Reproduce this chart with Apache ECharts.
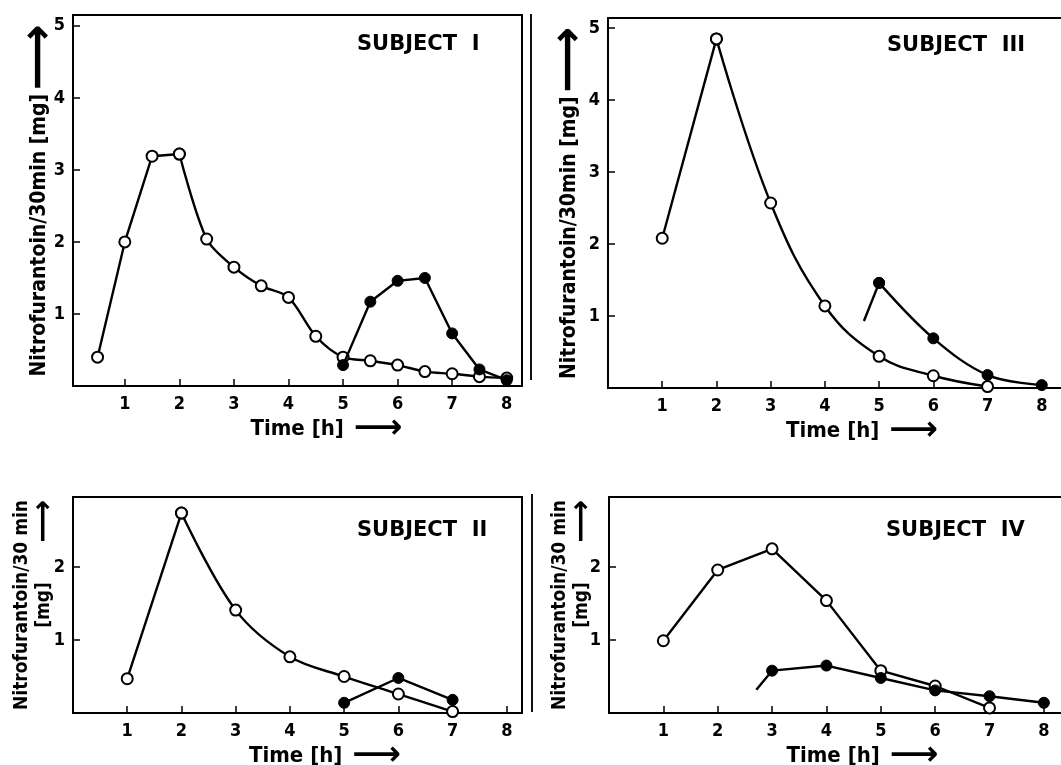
<!DOCTYPE html>
<html>
<head>
<meta charset="utf-8">
<title>Nitrofurantoin excretion</title>
<script src="https://cdn.jsdelivr.net/npm/echarts@6/dist/echarts.min.js"></script>
<style>
  html, body { margin: 0; padding: 0; background: #fff; }
  #chart { width: 1061px; height: 765px; }
</style>
</head>
<body>
<div id="chart"></div>
<script>
// tick labels
const ticksX = [1, 2, 3, 4, 5, 6, 7, 8]
const ticksYBig = [1, 2, 3, 4, 5]
const ticksYSmall = [1, 2]

// [time h, mg / 30 min]  open = first series, filled = second series
const s1Open = [[0.5, 0.40], [1, 2.0], [1.5, 3.19], [2, 3.22], [2.5, 2.04], [3, 1.65], [3.5, 1.39],
  [4, 1.23], [4.5, 0.69], [5, 0.40], [5.5, 0.35], [6, 0.29], [6.5, 0.20], [7, 0.17], [7.5, 0.13], [8, 0.11]]
const s1Filled = [[5, 0.29], [5.5, 1.17], [6, 1.46], [6.5, 1.50], [7, 0.73], [7.5, 0.23], [8, 0.08]]

const s2Open = [[1, 0.47], [2, 2.74], [3, 1.41], [4, 0.77], [5, 0.50], [6, 0.26], [7, 0.02]]
const s2Filled = [[5, 0.14], [6, 0.48], [7, 0.18]]

const s3Open = [[1, 2.08], [2, 4.85], [3, 2.57], [4, 1.14], [5, 0.44], [6, 0.17], [7, 0.02]]
const s3Lead = [4.72, 0.93]   // line starts here, no marker
const s3Filled = [[5, 1.46], [6, 0.69], [7, 0.18], [8, 0.04]]

const s4Open = [[1, 0.99], [2, 1.96], [3, 2.25], [4, 1.54], [5, 0.58], [6, 0.37], [7, 0.07]]
const s4Lead = [2.71, 0.32]
const s4Filled = [[3, 0.58], [4, 0.65], [5, 0.48], [6, 0.31], [7, 0.23], [8, 0.14]]

const FONT = 'DejaVu Sans Condensed'

let chart = echarts.init(document.getElementById('chart'), null, { renderer: 'canvas' })

function grid(left, top, width, height) {
    return {
        left: left, top: top, width: width, height: height,
        show: true, borderColor: '#000', borderWidth: 2,
        outerBoundsMode: 'none'
    }
}

function xAxis(idx, min, max, shift, gap) {
    return {
        type: 'value', gridIndex: idx, min: min, max: max,
        axisLine: { show: true, lineStyle: { color: '#000', width: 2 } },
        axisTick: { show: true, inside: true, length: 7, customValues: ticksX, lineStyle: { color: '#000', width: 1.5 } },
        axisLabel: { customValues: ticksX, color: '#000', fontFamily: FONT, fontWeight: 'bold', fontSize: 18, margin: 9 },
        splitLine: { show: false },
        name: '{p|}{t|Time [h]}{a|⟶}',
        nameLocation: 'middle',
        nameGap: gap,
        nameMoveOverlap: false,
        nameTextStyle: {
            rich: {
                p: { width: shift },
                t: { fontFamily: FONT, fontWeight: 'bold', fontSize: 22, color: '#000', padding: [0, 10, 0, 0] },
                a: { fontFamily: 'DejaVu Sans', fontWeight: 'bold', fontSize: 34, color: '#000' }
            }
        }
    }
}

function yAxis(idx, max, ticks, name, gap, size) {
    return {
        type: 'value', gridIndex: idx, min: 0, max: max,
        axisLine: { show: true, lineStyle: { color: '#000', width: 2 } },
        axisTick: { show: true, inside: true, length: 7, customValues: ticks, lineStyle: { color: '#000', width: 1.5 } },
        axisLabel: { customValues: ticks, color: '#000', fontFamily: FONT, fontWeight: 'bold', fontSize: 18, margin: 8 },
        splitLine: { show: false },
        name: name,
        nameLocation: 'middle',
        nameGap: gap,
        nameMoveOverlap: false,
        nameTextStyle: {
            rich: {
                t: { fontFamily: FONT, fontWeight: 'bold', fontSize: size, color: '#000', lineHeight: 22 },
                l: { width: 80 },
                m: { fontFamily: FONT, fontWeight: 'bold', fontSize: size, color: '#000', width: 40, align: 'center', lineHeight: 22 },
                r: { fontFamily: 'DejaVu Sans', fontWeight: 'bold', fontSize: 30, color: '#000', width: 80, align: 'right', lineHeight: 22 },
                a: { fontFamily: 'DejaVu Sans', fontWeight: 'bold', fontSize: 46, color: '#000', lineHeight: 30 }
            }
        }
    }
}

// one line series, straight up to index k, smoothed after it
function lineSeries(idx, data, filled, k, smooth, lead) {
    let pts = data.map(d => ({ value: d }))
    if (lead) pts.unshift({ value: lead, symbol: 'none' })
    let base = {
        type: 'line', xAxisIndex: idx, yAxisIndex: idx,
        symbol: 'circle', symbolSize: 11,
        lineStyle: { color: '#000', width: 2.4 },
        itemStyle: filled
            ? { color: '#000', borderColor: '#000', borderWidth: 1 }
            : { color: '#fff', borderColor: '#000', borderWidth: 2 },
        z: filled ? 3 : 2,
        animation: false
    }
    if (k < 0) return [Object.assign({}, base, { data: pts })]
    return [
        Object.assign({}, base, { data: pts.slice(0, k + 1) }),
        Object.assign({}, base, { data: pts.slice(k), smooth: smooth })
    ]
}

function subjectTitle(text, left, top) {
    return {
        text: text, left: left, top: top,
        textStyle: { fontFamily: 'DejaVu Sans', fontWeight: 'bold', fontSize: 21, color: '#000' }
    }
}

const nameBig = '{t|Nitrofurantoin/30min [mg]} {a|⟶}'
const nameSmall = '{t|Nitrofurantoin/30 min}\n{l|}{m|[mg]}{r|⟶}'

chart.setOption({
    backgroundColor: '#fff',
    animation: false,
    title: [
        subjectTitle('SUBJECT  I', 352, 29),
        subjectTitle('SUBJECT  III', 882, 30),
        subjectTitle('SUBJECT  II', 352, 515),
        subjectTitle('SUBJECT  IV', 881, 515)
    ],
    grid: [
        grid(73, 15, 449, 371),
        grid(608, 18, 456, 370),
        grid(73, 497, 449, 216),
        grid(609, 497, 455, 216)
    ],
    xAxis: [
        xAxis(0, 0.05, 8.28, 58, 26),
        xAxis(1, 0, 8.41, 52, 26),
        xAxis(2, 0, 8.28, 55, 26),
        xAxis(3, 0, 8.37, 52, 26)
    ],
    yAxis: [
        yAxis(0, 5.15, ticksYBig, nameBig, 18, 21),
        yAxis(1, 5.14, ticksYBig, nameBig, 23, 21),
        yAxis(2, 2.96, ticksYSmall, nameSmall, 18, 19),
        yAxis(3, 2.96, ticksYSmall, nameSmall, 16, 19)
    ],
    graphic: [
        // dark page edge from the scan
        { type: 'line', shape: { x1: 531, y1: 14, x2: 531, y2: 380 }, style: { stroke: '#111', lineWidth: 2 } },
        { type: 'line', shape: { x1: 532, y1: 494, x2: 532, y2: 712 }, style: { stroke: '#111', lineWidth: 2 } }
    ],
    series: [].concat(
        lineSeries(0, s1Open, false, 3, 0.3),
        lineSeries(0, s1Filled, true, -1),
        lineSeries(1, s3Open, false, 1, 0.4),
        lineSeries(1, s3Filled, true, 1, 0.35, s3Lead),
        lineSeries(2, s2Open, false, 1, 0.35),
        lineSeries(2, s2Filled, true, -1),
        lineSeries(3, s4Open, false, -1),
        lineSeries(3, s4Filled, true, -1, 0, s4Lead)
    )
})
</script>
</body>
</html>
